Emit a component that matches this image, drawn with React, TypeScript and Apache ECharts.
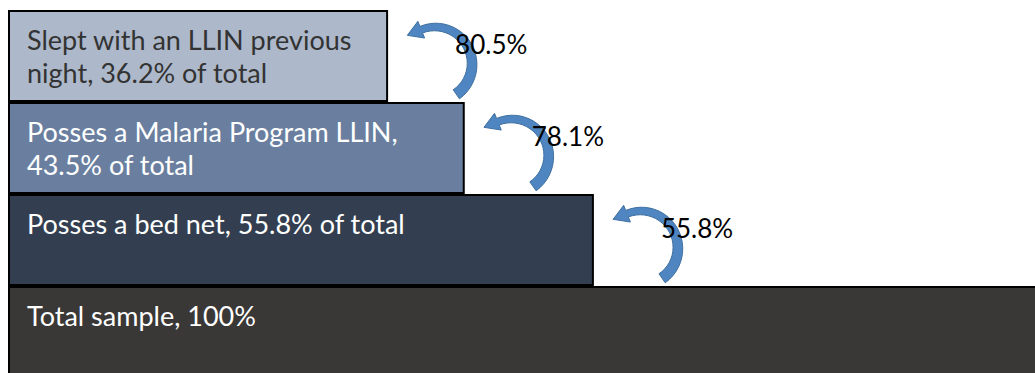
import React, { useEffect, useRef } from "react";
import * as echarts from "echarts";

// Categories from bottom (total) to top (narrowest)
const categories = [
  "Total sample",
  "Posses a bed net",
  "Posses a Malaria Program LLIN",
  "Slept with an LLIN previous night",
];
// Share of total sample (%)
const shareOfTotal = [100, 55.8, 43.5, 36.2];
// Texts written inside the bars
const barLabels = [
  "Total sample, 100%",
  "Posses a bed net, 55.8% of total",
  "Posses a Malaria Program LLIN,\n43.5% of total",
  "Slept with an LLIN previous\nnight, 36.2% of total",
];
// Step conversion shown beside the arrows (for categories 1..3)
const stepRates = ["55.8%", "78.1%", "80.5%"];

const BAR_COLORS = ["#3a3836", "#333f50", "#6a7f9f", "#adb9ca"];
const LABEL_COLORS = ["#ffffff", "#ffffff", "#ffffff", "#333333"];
const FONT = "Lato, 'Noto Sans', sans-serif";

function arrowPoints(x0: number, y0: number): number[][] {
  const cx = x0 + 47;
  const cy = y0 + 54;
  const r = 37;
  const tail = (55 * Math.PI) / 180;
  const headBase = (-112 * Math.PI) / 180;
  const n = 24;
  const outer: number[][] = [];
  const inner: number[][] = [];
  for (let i = 0; i <= n; i++) {
    const t = tail + ((headBase - tail) * i) / n;
    const w = 11 - 4 * (i / n);
    outer.push([cx + (r + w / 2) * Math.cos(t), cy + (r + w / 2) * Math.sin(t)]);
    inner.push([cx + (r - w / 2) * Math.cos(t), cy + (r - w / 2) * Math.sin(t)]);
  }
  const c = Math.cos(headBase);
  const s = Math.sin(headBase);
  const bx = cx + r * c;
  const by = cy + r * s;
  const dir = [s, -c];
  const hw = 9;
  const tip = [bx + 15 * dir[0], by + 15 * dir[1]];
  const headOuter = [bx + hw * c, by + hw * s];
  const headInner = [bx - hw * c, by - hw * s];
  return [...outer, headOuter, tip, headInner, ...inner.reverse()];
}

export default function App() {
  const ref = useRef<HTMLDivElement>(null);
  useEffect(() => {
    if (!ref.current) return;
    const chart = echarts.init(ref.current, undefined, { renderer: "svg" });
    const barData = shareOfTotal.map((v, i) => ({
      value: v,
      itemStyle: { color: BAR_COLORS[i] },
      label: { color: LABEL_COLORS[i] },
    }));
    const arrowData = stepRates.map((r, i) => [shareOfTotal[i + 1], i + 1, r]);
    chart.setOption({
      animation: false,
      grid: { left: 8, top: 10, width: 1050, height: 368 },
      xAxis: { type: "value", min: 0, max: 100, show: false },
      yAxis: { type: "category", data: categories, show: false },
      series: [
        {
          type: "bar",
          data: barData,
          barCategoryGap: 0,
          barWidth: "100%",
          itemStyle: { borderColor: "#000000", borderWidth: 2 },
          label: {
            show: true,
            position: [19, 13],
            align: "left",
            verticalAlign: "top",
            fontFamily: FONT,
            fontSize: 27,
            lineHeight: 33,
            formatter: (p: any) => barLabels[p.dataIndex],
          },
          silent: true,
        },
        {
          type: "custom",
          data: arrowData,
          encode: { x: 0, y: 1 },
          renderItem: (params: any, api: any) => {
            const p = api.coord([api.value(0), api.value(1)]);
            const h = api.size([0, 1])[1];
            const x0 = p[0];
            const y0 = p[1] - h / 2;
            const rate = stepRates[params.dataIndex];
            return {
              type: "group",
              children: [
                {
                  type: "polygon",
                  shape: { points: arrowPoints(x0, y0) },
                  style: { fill: "#4f86c2", stroke: "#3f6f9f", lineWidth: 1 },
                },
                {
                  type: "text",
                  x: x0 + 67,
                  y: y0 + 34,
                  style: {
                    text: rate,
                    fill: "#000000",
                    fontFamily: FONT,
                    fontSize: 26,
                    align: "left",
                    verticalAlign: "middle",
                  },
                },
              ],
            };
          },
          silent: true,
          z: 5,
        },
      ],
    });
    return () => chart.dispose();
  }, []);
  return (
    <div style={{ position: "fixed", left: 0, top: 0, width: 1035, height: 373, overflow: "hidden", background: "#ffffff" }}>
      <div ref={ref} style={{ position: "absolute", left: 0, top: 0, width: 1060, height: 390 }} />
    </div>
  );
}
